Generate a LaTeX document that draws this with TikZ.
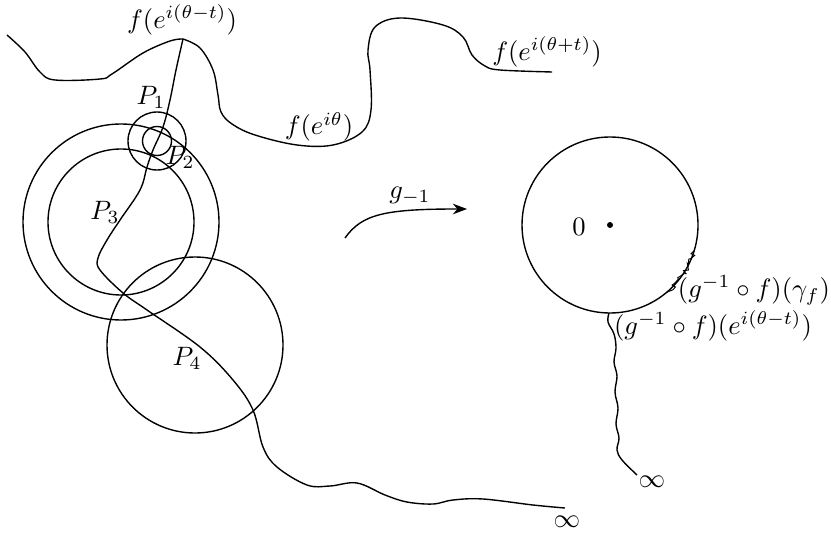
\documentclass[tikz,border=0pt]{standalone}
\usetikzlibrary{arrows.meta,decorations.pathmorphing}

\begin{document}
\begin{tikzpicture}[>=Stealth,x=0.376pt,y=-0.376pt,line width=0.52pt]
  \useasboundingbox (0,0) rectangle (831,535);
  % image of the circle under f
  \draw plot[smooth,tension=0.6] coordinates {(7,35) (25,52) (40,72) (55,80)
    (100,79) (112,74) (143,53) (170,41) (183,39)};
  \draw plot[smooth,tension=0.6] coordinates {(183,39) (200,48) (213,70) (218,95)
    (221,112) (232,124) (255,135) (297,145) (333,145) (362,132) (371,110)
    (370,70) (368,50) (375,27) (400,18) (443,25) (463,37) (472,55) (485,66)
    (500,70) (552,72)};
  % path to infinity
  \draw plot[smooth,tension=0.6] coordinates {(183,39) (176,70) (170,100)
    (163,127) (153,150) (147,167) (140,190) (120,220) (107,240) (98,258)
    (100,270) (123,293) (147,310) (200,347) (233,380) (253,410) (263,447)
    (277,467) (307,485) (330,486) (357,483) (385,495) (407,502) (433,504)
    (453,500) (483,499) (533,505) (565,508)};
  % discs
  \draw (157,141) circle[radius=29];
  \draw (157,141) circle[radius=14.5];
  \draw (121,222) circle[radius=98];
  \draw (121,222) circle[radius=73];
  \draw (195,345) circle[radius=88];
  \node (p1) at (151,97) {$P_1$};
  \node (p2) at (180,157) {$P_2$};
  \node (p3) at (105,212) {$P_3$};
  \node (p4) at (187,358) {$P_4$};
  \node (fminus) at (182,20) {$f(e^{i(\theta-t)})$};
  \node (fzero) at (319,127) {$f(e^{i\theta})$};
  \node (fplus) at (547,52) {$f(e^{i(\theta+t)})$};
  \node (infl) at (567,522) {$\infty$};
  % the map
  \coordinate (gstart) at (345,238);
  \coordinate (gend) at (467,209);
  \draw[->] (gstart) .. controls (362,214) and (385,209) .. (gend);
  \node (glabel) at (410,196) {$g_{-1}$};
  % unit disc picture
  \coordinate (origin) at (610,225);
  \draw (origin) circle[radius=88];
  \fill (origin) circle[radius=3];
  \node (zero) at (579,227) {$0$};
  \draw[line width=0.35pt,decorate,decoration={random steps,segment length=1pt,amplitude=0.9pt}]
    (origin) ++(17:88) arc[start angle=17,end angle=50,radius=88];
  \draw plot[smooth,tension=0.6] coordinates {(609,313) (608,322) (614,334)
    (616,348) (614,362) (617,376) (615,392) (618,408) (616,424) (619,438)
    (617,450) (622,460) (637,475)};
  \node (infr) at (652,482) {$\infty$};
  \node (gamma) at (754,290) {$(g^{-1}\circ f)(\gamma_f)$};
  \node (gpoint) at (713,326) {$(g^{-1}\circ f)(e^{i(\theta-t)})$};
\end{tikzpicture}
\end{document}
